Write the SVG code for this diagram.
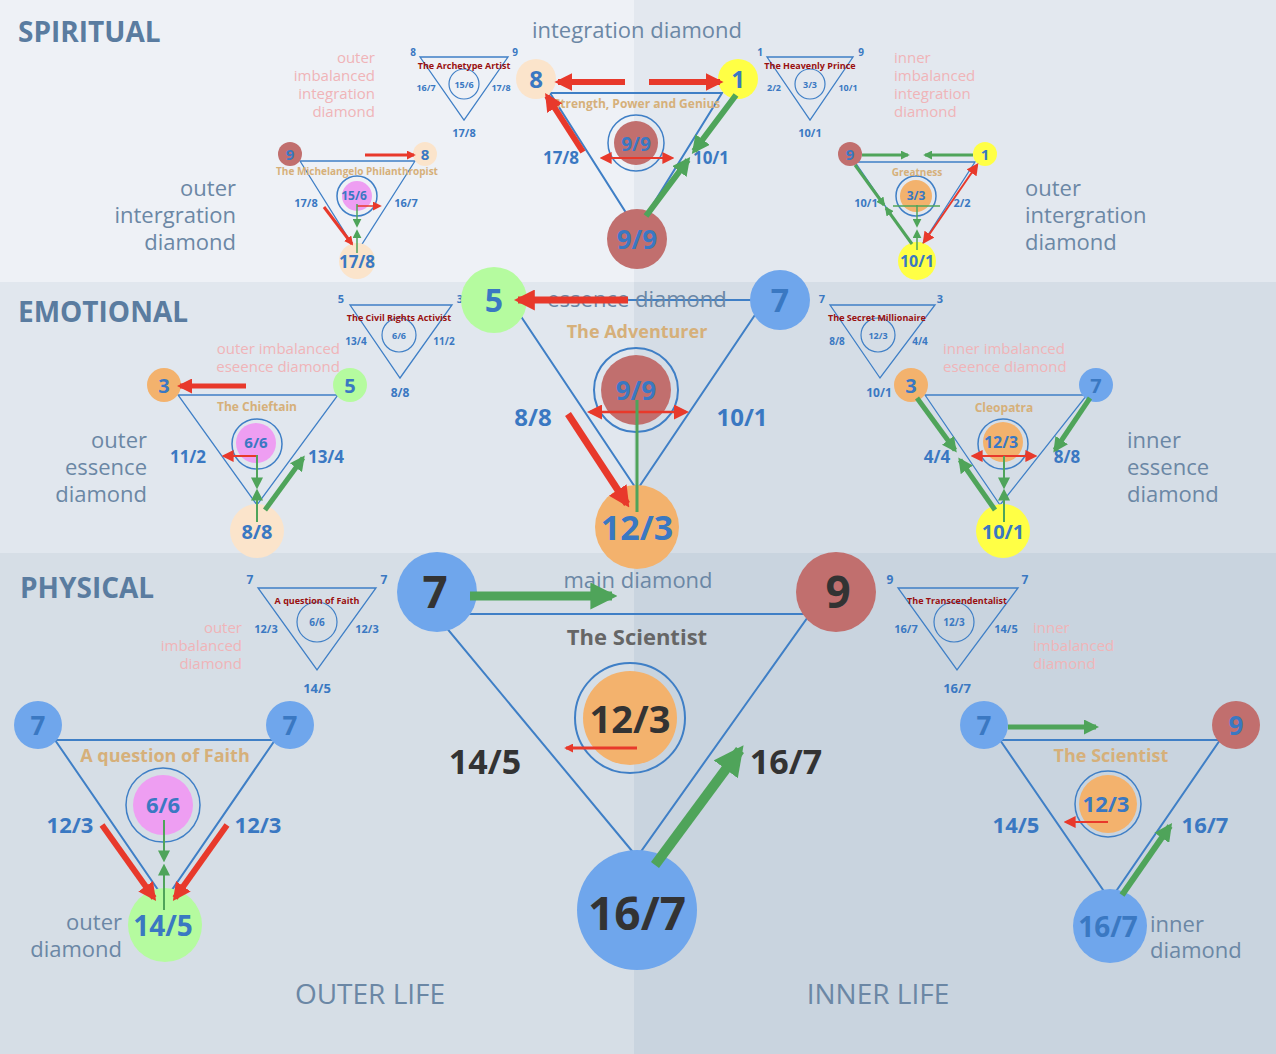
<svg xmlns="http://www.w3.org/2000/svg" width="1276" height="1054" viewBox="0 0 1276 1054">
<defs>
<marker id="ar" viewBox="0 0 10 10" refX="8" refY="5" markerWidth="3" markerHeight="3" orient="auto"><path d="M0,0L10,5L0,10z" fill="#e8392b"/></marker>
<marker id="ag" viewBox="0 0 10 10" refX="8" refY="5" markerWidth="3" markerHeight="3" orient="auto"><path d="M0,0L10,5L0,10z" fill="#4fa45a"/></marker>
<marker id="ar2" viewBox="0 0 10 10" refX="8" refY="5" markerWidth="6" markerHeight="6" orient="auto-start-reverse"><path d="M0,0L10,5L0,10z" fill="#e8392b"/></marker>
<marker id="ag2" viewBox="0 0 10 10" refX="8" refY="5" markerWidth="6" markerHeight="6" orient="auto-start-reverse"><path d="M0,0L10,5L0,10z" fill="#4fa45a"/></marker>
</defs>
<style>
text{font-family:"Open Sans","DejaVu Sans",sans-serif;text-anchor:middle}
.tri{fill:none;stroke:#3f7fc6;stroke-width:2}
.tris{fill:none;stroke:#3f7fc6;stroke-width:1.3}
.ring{fill:none;stroke:#3f7fc6;stroke-width:1.5}
.n{fill:#3a78c2;font-weight:bold}
.big{fill:#333;font-weight:bold}
.gold{fill:#d6b07a;font-weight:bold}
.ttl{fill:#9a1010;font-weight:bold;font-size:9px}
.side{fill:#6b87a5;font-size:22px}
.pk{fill:#f0b4b8;font-size:15px}
.hd{fill:#5a7ca0;font-weight:bold;font-size:28px;text-anchor:start}
.r{stroke:#e8392b;fill:none}
.g{stroke:#4fa45a;fill:none}
.bl{fill:#6fa6ec}.rd{fill:#c16f6e}.pe{fill:#fbe4cb}.ye{fill:#ffff45}.gr{fill:#b5fb9f}.or{fill:#f3b26d}.pi{fill:#ee9ef2}
</style>
<rect x="0" y="0" width="634" height="282" fill="#eef1f6"/>
<rect x="634" y="0" width="642" height="282" fill="#e3e8ef"/>
<rect x="0" y="282" width="634" height="271" fill="#e1e7ee"/>
<rect x="634" y="282" width="642" height="271" fill="#d5dde6"/>
<rect x="0" y="553" width="634" height="501" fill="#d6dee6"/>
<rect x="634" y="553" width="642" height="501" fill="#c9d4df"/>

<g id="labels">
<text class="hd" x="18" y="42">SPIRITUAL</text>
<text class="hd" x="18" y="322">EMOTIONAL</text>
<text class="hd" x="20" y="598">PHYSICAL</text>
<text x="370" y="1004" style="fill:#6b87a5;font-size:28px">OUTER LIFE</text>
<text x="878" y="1004" style="fill:#6b87a5;font-size:28px">INNER LIFE</text>
<text x="637" y="38" style="fill:#6b87a5;font-size:22px">integration diamond</text>
<text class="side" x="236" y="196" style="text-anchor:end">outer</text>
<text class="side" x="236" y="223" style="text-anchor:end">intergration</text>
<text class="side" x="236" y="250" style="text-anchor:end">diamond</text>
<text class="side" x="1025" y="196" style="text-anchor:start">outer</text>
<text class="side" x="1025" y="223" style="text-anchor:start">intergration</text>
<text class="side" x="1025" y="250" style="text-anchor:start">diamond</text>
<text class="side" x="147" y="448" style="text-anchor:end">outer</text>
<text class="side" x="147" y="475" style="text-anchor:end">essence</text>
<text class="side" x="147" y="502" style="text-anchor:end">diamond</text>
<text class="side" x="1127" y="448" style="text-anchor:start">inner</text>
<text class="side" x="1127" y="475" style="text-anchor:start">essence</text>
<text class="side" x="1127" y="502" style="text-anchor:start">diamond</text>
<text class="side" x="122" y="930" style="text-anchor:end">outer</text>
<text class="side" x="122" y="957" style="text-anchor:end">diamond</text>
<text class="side" x="1150" y="932" style="text-anchor:start">inner</text>
<text class="side" x="1150" y="958" style="text-anchor:start">diamond</text>
<text class="pk" x="375" y="63" style="text-anchor:end">outer</text>
<text class="pk" x="375" y="81" style="text-anchor:end">imbalanced</text>
<text class="pk" x="375" y="99" style="text-anchor:end">integration</text>
<text class="pk" x="375" y="117" style="text-anchor:end">diamond</text>
<text class="pk" x="894" y="63" style="text-anchor:start">inner</text>
<text class="pk" x="894" y="81" style="text-anchor:start">imbalanced</text>
<text class="pk" x="894" y="99" style="text-anchor:start">integration</text>
<text class="pk" x="894" y="117" style="text-anchor:start">diamond</text>
<text class="pk" x="340" y="354" style="text-anchor:end">outer imbalanced</text>
<text class="pk" x="340" y="372" style="text-anchor:end">eseence diamond</text>
<text class="pk" x="943" y="354" style="text-anchor:start">inner imbalanced</text>
<text class="pk" x="943" y="372" style="text-anchor:start">eseence diamond</text>
<text class="pk" x="242" y="633" style="text-anchor:end">outer</text>
<text class="pk" x="242" y="651" style="text-anchor:end">imbalanced</text>
<text class="pk" x="242" y="669" style="text-anchor:end">diamond</text>
<text class="pk" x="1033" y="633" style="text-anchor:start">inner</text>
<text class="pk" x="1033" y="651" style="text-anchor:start">imbalanced</text>
<text class="pk" x="1033" y="669" style="text-anchor:start">diamond</text>
</g>

<!-- small template triangles -->
<g id="archetype">
<path class="tris" d="M420,57H508L464,120Z"/><circle class="ring" cx="464" cy="84" r="15" style="stroke-width:1.2"/>
<text class="ttl" x="464" y="69">The Archetype Artist</text>
<text class="n" x="464" y="88" font-size="9">15/6</text>
<text class="n" x="413" y="56" font-size="10">8</text><text class="n" x="515" y="56" font-size="10">9</text>
<text class="n" x="426" y="91" font-size="9">16/7</text><text class="n" x="501" y="91" font-size="9">17/8</text>
<text class="n" x="464" y="137" font-size="11">17/8</text>
</g>
<g id="heavenly">
<path class="tris" d="M767,57H853L810,120Z"/><circle class="ring" cx="810" cy="84" r="15" style="stroke-width:1.2"/>
<text class="ttl" x="810" y="69">The Heavenly Prince</text>
<text class="n" x="810" y="88" font-size="9">3/3</text>
<text class="n" x="760" y="56" font-size="10">1</text><text class="n" x="861" y="56" font-size="10">9</text>
<text class="n" x="774" y="91" font-size="9">2/2</text><text class="n" x="848" y="91" font-size="9">10/1</text>
<text class="n" x="810" y="137" font-size="11">10/1</text>
</g>
<g id="civil">
<path class="tris" d="M350,305H452L400,378Z"/><circle class="ring" cx="399" cy="335" r="17" style="stroke-width:1.2"/>
<text class="ttl" x="399" y="321">The Civil Rights Activist</text>
<text class="n" x="399" y="339" font-size="9">6/6</text>
<text class="n" x="341" y="303" font-size="11">5</text><text class="n" x="460" y="303" font-size="11">3</text>
<text class="n" x="356" y="345" font-size="10">13/4</text><text class="n" x="444" y="345" font-size="10">11/2</text>
<text class="n" x="400" y="397" font-size="12">8/8</text>
</g>
<g id="millionaire">
<path class="tris" d="M830,305H935L880,378Z"/><circle class="ring" cx="878" cy="335" r="17" style="stroke-width:1.2"/>
<text class="ttl" x="877" y="321">The Secret Millionaire</text>
<text class="n" x="878" y="339" font-size="9">12/3</text>
<text class="n" x="822" y="303" font-size="11">7</text><text class="n" x="940" y="303" font-size="11">3</text>
<text class="n" x="837" y="345" font-size="10">8/8</text><text class="n" x="920" y="345" font-size="10">4/4</text>
<text class="n" x="879" y="397" font-size="12">10/1</text>
</g>
<g id="faith-small">
<path class="tris" d="M258,588H376L317,670Z"/><circle class="ring" cx="317" cy="622" r="20" style="stroke-width:1.2"/>
<text class="ttl" x="317" y="604">A question of Faith</text>
<text class="n" x="317" y="626" font-size="10">6/6</text>
<text class="n" x="250" y="584" font-size="12">7</text><text class="n" x="384" y="584" font-size="12">7</text>
<text class="n" x="266" y="633" font-size="11">12/3</text><text class="n" x="367" y="633" font-size="11">12/3</text>
<text class="n" x="317" y="693" font-size="13">14/5</text>
</g>
<g id="transcend">
<path class="tris" d="M898,588H1018L957,670Z"/><circle class="ring" cx="954" cy="622" r="20" style="stroke-width:1.2"/>
<text class="ttl" x="957" y="604">The Transcendentalist</text>
<text class="n" x="954" y="626" font-size="10">12/3</text>
<text class="n" x="890" y="584" font-size="12">9</text><text class="n" x="1025" y="584" font-size="12">7</text>
<text class="n" x="906" y="633" font-size="11">16/7</text><text class="n" x="1006" y="633" font-size="11">14/5</text>
<text class="n" x="957" y="693" font-size="13">16/7</text>
</g>

<!-- triangles -->
<g id="triangles">
<path class="tri" d="M435,614H810L637,857Z"/>
<path class="tri" d="M510,300H765L637,490Z"/>
<path class="tri" d="M550,93H722L637,230Z"/>
<path class="tris" d="M300,161H415L357,252Z"/>
<path class="tris" d="M855,162H975L917,252Z"/>
<path class="tris" d="M178,395H338L257,505Z"/>
<path class="tris" d="M925,395H1087L1000,505Z"/>
<path class="tri" d="M55,740H275L165,900Z"/>
<path class="tri" d="M1000,740H1220L1110,900Z"/>
</g>

<!-- nodes -->
<g id="main">
<circle class="bl" cx="437" cy="592" r="40"/><text class="big" x="435" y="608" font-size="44">7</text>
<circle class="rd" cx="836" cy="592" r="40"/><text class="big" x="838" y="608" font-size="44">9</text>
<circle class="bl" cx="637" cy="910" r="60"/><text class="big" x="637" y="930" font-size="46">16/7</text>
<circle class="or" cx="630" cy="718" r="47"/><circle class="ring" cx="630" cy="718" r="55" style="stroke-width:2"/>
<text class="big" x="630" y="733" font-size="38">12/3</text>
<text class="big" x="485" y="774" font-size="34">14/5</text>
<text class="big" x="786" y="774" font-size="34">16/7</text>
<text x="637" y="645" style="fill:#666;font-weight:bold;font-size:22px">The Scientist</text>
<text x="638" y="588" style="fill:#6b87a5;font-size:22px">main diamond</text>
</g>
<g id="essence">
<circle class="gr" cx="494" cy="300" r="33"/><text class="n" x="494" y="312" font-size="32">5</text>
<circle class="bl" cx="780" cy="300" r="30"/><text class="n" x="780" y="312" font-size="32">7</text>
<circle class="or" cx="637" cy="527" r="42"/><text class="n" x="637" y="540" font-size="34">12/3</text>
<circle class="rd" cx="636" cy="390" r="35"/><circle class="ring" cx="636" cy="390" r="42" style="stroke-width:2"/>
<text class="n" x="636" y="400" font-size="26">9/9</text>
<text x="637" y="307" style="fill:#6b87a5;font-size:22px">essence diamond</text>
<text class="gold" x="637" y="338" font-size="18">The Adventurer</text>
<text class="n" x="533" y="426" font-size="24">8/8</text>
<text class="n" x="742" y="426" font-size="24">10/1</text>
</g>
<g id="integration">
<circle class="pe" cx="536" cy="79" r="20"/><text class="n" x="536" y="88" font-size="24">8</text>
<circle class="ye" cx="738" cy="79" r="20"/><text class="n" x="738" y="88" font-size="24">1</text>
<circle class="rd" cx="637" cy="239" r="30"/><text class="n" x="637" y="249" font-size="26">9/9</text>
<circle class="rd" cx="636" cy="143" r="22"/><circle class="ring" cx="636" cy="143" r="28"/>
<text class="n" x="636" y="151" font-size="19">9/9</text>
<text class="gold" x="637" y="108" font-size="12">Strength, Power and Genius</text>
<text class="n" x="561" y="164" font-size="17">17/8</text>
<text class="n" x="711" y="164" font-size="17">10/1</text>
</g>
<g id="michelangelo">
<circle class="rd" cx="290" cy="154" r="12"/><text class="n" x="290" y="160" font-size="15">9</text>
<circle class="pe" cx="425" cy="154" r="12"/><text class="n" x="425" y="160" font-size="15">8</text>
<circle class="pe" cx="357" cy="261" r="18"/><text class="n" x="357" y="268" font-size="17">17/8</text>
<circle class="pi" cx="357" cy="196" r="15"/><circle class="ring" cx="357" cy="196" r="20"/>
<text class="n" x="354" y="200" font-size="12">15/6</text>
<text class="gold" x="357" y="175" font-size="10">The Michelangelo Philanthropist</text>
<text class="n" x="306" y="207" font-size="11">17/8</text><text class="n" x="406" y="207" font-size="11">16/7</text>
</g>
<g id="greatness">
<circle class="rd" cx="850" cy="154" r="12"/><text class="n" x="850" y="160" font-size="15">9</text>
<circle class="ye" cx="985" cy="154" r="12"/><text class="n" x="985" y="160" font-size="15">1</text>
<circle class="ye" cx="917" cy="261" r="19"/><text class="n" x="917" y="267" font-size="16">10/1</text>
<circle class="or" cx="916" cy="196" r="16"/><circle class="ring" cx="916" cy="196" r="20"/>
<text class="n" x="916" y="200" font-size="12">3/3</text>
<text class="gold" x="917" y="176" font-size="10">Greatness</text>
<text class="n" x="866" y="207" font-size="11">10/1</text><text class="n" x="962" y="207" font-size="11">2/2</text>
</g>
<g id="chieftain">
<circle class="or" cx="164" cy="385" r="17"/><text class="n" x="164" y="393" font-size="20">3</text>
<circle class="gr" cx="350" cy="385" r="17"/><text class="n" x="350" y="393" font-size="20">5</text>
<circle class="pe" cx="257" cy="531" r="27"/><text class="n" x="257" y="539" font-size="20">8/8</text>
<circle class="pi" cx="256" cy="443" r="20"/><circle class="ring" cx="257" cy="444" r="25"/>
<text class="n" x="256" y="448" font-size="15">6/6</text>
<text class="gold" x="257" y="411" font-size="12">The Chieftain</text>
<text class="n" x="188" y="463" font-size="17">11/2</text><text class="n" x="326" y="463" font-size="17">13/4</text>
</g>
<g id="cleopatra">
<circle class="or" cx="911" cy="385" r="17"/><text class="n" x="911" y="393" font-size="20">3</text>
<circle class="bl" cx="1096" cy="385" r="17"/><text class="n" x="1096" y="393" font-size="20">7</text>
<circle class="ye" cx="1003" cy="531" r="27"/><text class="n" x="1003" y="539" font-size="20">10/1</text>
<circle class="or" cx="1003" cy="442" r="20"/><circle class="ring" cx="1003" cy="444" r="25"/>
<text class="n" x="1001" y="448" font-size="16">12/3</text>
<text class="gold" x="1004" y="412" font-size="12">Cleopatra</text>
<text class="n" x="937" y="463" font-size="17">4/4</text><text class="n" x="1067" y="463" font-size="17">8/8</text>
</g>
<g id="outer">
<circle class="bl" cx="38" cy="725" r="24"/><text class="n" x="38" y="735" font-size="26">7</text>
<circle class="bl" cx="290" cy="725" r="24"/><text class="n" x="290" y="735" font-size="26">7</text>
<circle class="gr" cx="165" cy="925" r="37"/><text class="n" x="163" y="936" font-size="28">14/5</text>
<circle class="pi" cx="163" cy="805" r="30"/><circle class="ring" cx="163" cy="805" r="37"/>
<text class="n" x="163" y="813" font-size="22">6/6</text>
<text class="gold" x="165" y="762" font-size="18">A question of Faith</text>
<text class="n" x="70" y="833" font-size="22">12/3</text><text class="n" x="258" y="833" font-size="22">12/3</text>
</g>
<g id="inner">
<circle class="bl" cx="984" cy="725" r="24"/><text class="n" x="984" y="735" font-size="26">7</text>
<circle class="rd" cx="1236" cy="725" r="24"/><text class="n" x="1236" y="735" font-size="26">9</text>
<circle class="bl" cx="1110" cy="926" r="37"/><text class="n" x="1108" y="937" font-size="28">16/7</text>
<circle class="or" cx="1108" cy="804" r="29"/><circle class="ring" cx="1108" cy="804" r="33"/>
<text class="n" x="1106" y="812" font-size="22">12/3</text>
<text class="gold" x="1111" y="762" font-size="18">The Scientist</text>
<text class="n" x="1016" y="833" font-size="22">14/5</text><text class="n" x="1205" y="833" font-size="22">16/7</text>
</g>

<!-- connectors -->
<g id="connectors">
<line class="g" x1="470" y1="596" x2="612" y2="596" stroke-width="9" marker-end="url(#ag)"/>
<line class="r" x1="637" y1="748" x2="566" y2="748" stroke-width="3" marker-end="url(#ar)"/>
<line class="g" x1="655" y1="865" x2="740" y2="750" stroke-width="10" marker-end="url(#ag)"/>

<line class="r" x1="628" y1="300" x2="518" y2="300" stroke-width="7" marker-end="url(#ar)"/>
<line class="r" x1="568" y1="414" x2="627" y2="504" stroke-width="7" marker-end="url(#ar)"/>
<line class="r" x1="590" y1="412" x2="686" y2="412" stroke-width="2.5" marker-start="url(#ar2)" marker-end="url(#ar2)"/>
<line class="g" x1="637" y1="400" x2="637" y2="512" stroke-width="3"/>

<line class="r" x1="625" y1="82" x2="558" y2="82" stroke-width="6" marker-end="url(#ar)"/>
<line class="r" x1="649" y1="82" x2="720" y2="82" stroke-width="6" marker-end="url(#ar)"/>
<line class="r" x1="583" y1="152" x2="547" y2="96" stroke-width="6" marker-end="url(#ar)"/>
<line class="g" x1="736" y1="95" x2="694" y2="151" stroke-width="6" marker-end="url(#ag)"/>
<line class="g" x1="646" y1="216" x2="688" y2="160" stroke-width="6" marker-end="url(#ag)"/>
<line class="r" x1="602" y1="158" x2="672" y2="158" stroke-width="2" marker-start="url(#ar2)" marker-end="url(#ar2)"/>

<line class="r" x1="365" y1="155" x2="414" y2="155" stroke-width="3" marker-end="url(#ar)"/>
<line class="r" x1="324" y1="207" x2="352" y2="244" stroke-width="3" marker-end="url(#ar)"/>
<line class="r" x1="357" y1="206" x2="380" y2="206" stroke-width="1.5" marker-end="url(#ar2)"/>
<line class="g" x1="357" y1="204" x2="357" y2="226" stroke-width="1.5" marker-end="url(#ag2)"/>
<line class="g" x1="357" y1="253" x2="357" y2="231" stroke-width="1.5" marker-end="url(#ag2)"/>

<line class="g" x1="862" y1="155" x2="908" y2="155" stroke-width="3" marker-end="url(#ag)"/>
<line class="g" x1="973" y1="155" x2="925" y2="155" stroke-width="3" marker-end="url(#ag)"/>
<line class="g" x1="855" y1="165" x2="884" y2="205" stroke-width="3" marker-end="url(#ag)"/>
<line class="g" x1="912" y1="244" x2="886" y2="208" stroke-width="3" marker-end="url(#ag)"/>
<line class="r" x1="924" y1="242" x2="977" y2="165" stroke-width="2" marker-start="url(#ar2)" marker-end="url(#ar2)"/>
<line class="g" x1="893" y1="206" x2="940" y2="206" stroke-width="1.5"/>
<line class="g" x1="917" y1="205" x2="917" y2="226" stroke-width="1.5" marker-end="url(#ag2)"/>
<line class="g" x1="917" y1="250" x2="917" y2="231" stroke-width="1.5" marker-end="url(#ag2)"/>

<line class="r" x1="246" y1="386" x2="180" y2="386" stroke-width="5" marker-end="url(#ar)"/>
<line class="g" x1="265" y1="510" x2="303" y2="458" stroke-width="5" marker-end="url(#ag)"/>
<line class="r" x1="257" y1="456" x2="224" y2="456" stroke-width="2" marker-end="url(#ar2)"/>
<line class="g" x1="257" y1="455" x2="257" y2="487" stroke-width="2" marker-end="url(#ag2)"/>
<line class="g" x1="257" y1="522" x2="257" y2="491" stroke-width="2" marker-end="url(#ag2)"/>

<line class="g" x1="917" y1="398" x2="955" y2="450" stroke-width="5" marker-end="url(#ag)"/>
<line class="g" x1="995" y1="510" x2="960" y2="460" stroke-width="5" marker-end="url(#ag)"/>
<line class="g" x1="1090" y1="398" x2="1055" y2="450" stroke-width="5" marker-end="url(#ag)"/>
<line class="r" x1="973" y1="456" x2="1035" y2="456" stroke-width="2" marker-start="url(#ar2)" marker-end="url(#ar2)"/>
<line class="g" x1="1004" y1="456" x2="1004" y2="487" stroke-width="2" marker-end="url(#ag2)"/>
<line class="g" x1="1004" y1="522" x2="1004" y2="491" stroke-width="2" marker-end="url(#ag2)"/>

<line class="r" x1="102" y1="825" x2="154" y2="898" stroke-width="6" marker-end="url(#ar)"/>
<line class="r" x1="227" y1="825" x2="175" y2="898" stroke-width="6" marker-end="url(#ar)"/>
<line class="g" x1="164" y1="820" x2="164" y2="860" stroke-width="2" marker-end="url(#ag2)"/>
<line class="g" x1="164" y1="910" x2="164" y2="866" stroke-width="2" marker-end="url(#ag2)"/>

<line class="g" x1="1008" y1="727" x2="1096" y2="727" stroke-width="5" marker-end="url(#ag)"/>
<line class="g" x1="1122" y1="895" x2="1170" y2="826" stroke-width="6" marker-end="url(#ag)"/>
<line class="r" x1="1108" y1="822" x2="1066" y2="822" stroke-width="2" marker-end="url(#ar2)"/>
</g>
</svg>
